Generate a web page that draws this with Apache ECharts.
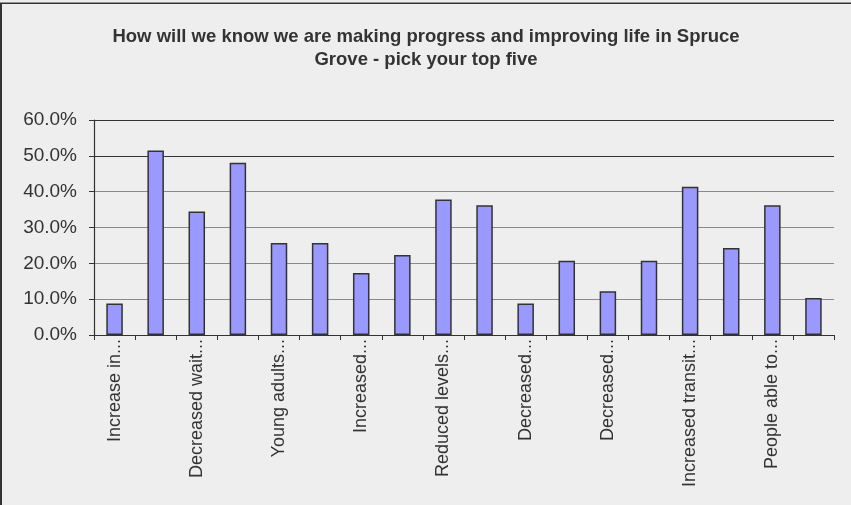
<!DOCTYPE html>
<html>
<head>
<meta charset="utf-8">
<script src="https://cdn.jsdelivr.net/npm/echarts@6/dist/echarts.min.js"></script>
<style>
html, body { margin: 0; padding: 0; background: #eeeeee; }
#chart { width: 851px; height: 505px; }
</style>
</head>
<body>
<div id="chart"></div>
<script>
// only every other category label is visible in the source chart
const categories = ["Increase in...", "", "Decreased wait...", "", "Young adults...", "", "Increased...", "", "Reduced levels...", "", "Decreased...", "", "Decreased...", "", "Increased transit...", "", "People able to...", ""];
const shares = [8.8, 51.5, 34.5, 48.1, 25.7, 25.7, 17.3, 22.3, 37.8, 36.2, 8.8, 20.7, 12.2, 20.7, 41.4, 24.3, 36.2, 10.3];
const yTicks = [0, 10, 20, 30, 40, 50, 60];

const chart = echarts.init(document.getElementById("chart"));
const font = "'Liberation Sans', Arial, sans-serif";

const option = {
	backgroundColor: "#eeeeee",
	animation: false,
	title: {
		text: "How will we know we are making progress and improving life in Spruce\nGrove - pick your top five",
		left: 421,
		textAlign: "center",
		top: 20,
		textStyle: {
			fontFamily: font,
			fontSize: 18.5,
			fontWeight: "bold",
			color: "#333",
			lineHeight: 23.5
		}
	},
	graphic: [
		{type: "line", shape: {x1: 0, y1: 3.2, x2: 851, y2: 3.2}, style: {stroke: "#333", lineWidth: 1.5}},
		{type: "line", shape: {x1: 1, y1: 3, x2: 1, y2: 505}, style: {stroke: "#333", lineWidth: 2}}
	],
	grid: {
		left: 94,
		right: 17,
		top: 120,
		bottom: 170
	},
	xAxis: {
		type: "category",
		data: categories,
		axisLine: {lineStyle: {color: "#333", width: 1.2}},
		axisTick: {show: true, interval: 0, length: 5, lineStyle: {color: "#333"}},
		axisLabel: {
			interval: 0,
			rotate: 90,
			margin: 4,
			fontFamily: font,
			fontSize: 18,
			color: "#333"
		}
	},
	yAxis: {
		type: "value",
		min: yTicks[0],
		max: yTicks[yTicks.length - 1],
		interval: yTicks[1] - yTicks[0],
		axisLine: {show: true, lineStyle: {color: "#333", width: 1.2}},
		axisTick: {show: true, length: 5, lineStyle: {color: "#333"}},
		axisLabel: {
			margin: 17,
			fontFamily: font,
			fontSize: 19,
			color: "#333",
			formatter: (v) => v.toFixed(1) + "%"
		},
		splitLine: {
			lineStyle: {
				color: ["#333", "#8a8a8a", "#8a8a8a", "#8a8a8a", "#8a8a8a", "#333", "#333"],
				width: 1.2
			}
		}
	},
	series: [{
		type: "bar",
		data: shares,
		barWidth: 16.5,
		itemStyle: {
			color: "#9999ff",
			borderColor: "#333",
			borderWidth: 1.5
		}
	}]
};

chart.setOption(option);
</script>
</body>
</html>
